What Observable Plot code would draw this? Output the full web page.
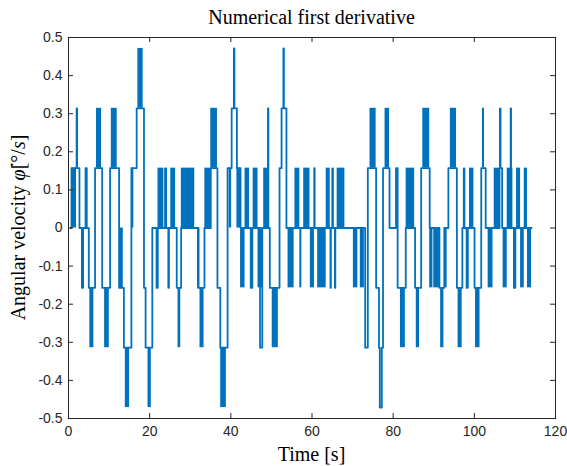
<!DOCTYPE html>
<html><head><meta charset="utf-8">
<script src="https://cdn.jsdelivr.net/npm/d3@7"></script>
<script src="https://cdn.jsdelivr.net/npm/@observablehq/plot@0.6"></script>
<style>body{margin:0;background:#fff}</style>
</head><body><div id="chart"></div>
<script>
// quantization step of the angular velocity (values are multiples of it)
const quantum = 0.1571;

// step signal: change times [s] and level (in quanta) from that time on
const stepTimes = [0.5,0.74,2.0,2.12,2.7,3.3,3.6,4.2,4.5,5.0,6.54,8.3,10.25,12.47,13.65,15.5,16.8,18.6,19.0,20.65,21.7,22.0,24.6,24.75,26.67,27.75,31.9,33.5,35.06,36.7,37.4,39.2,40.2,40.75,40.88,41.5,42.4,44.9,45.3,47.2,47.75,49.15,49.25,49.6,52.0,52.5,52.95,53.08,53.7,60.55,60.65,64.55,64.65,65.65,65.75,73.1,73.75,75.8,76.5,76.7,77.2,77.5,79.1,80.7,81.1,83.1,85.4,86.9,89.0,91.4,92.6,93.6,95.7,97.05,98.1,98.4,100.05,101.7,102.8,106.2,106.85,108.95,109.05,109.75,110.1,114.1];
const stepLevels = [0,1,2,1,0,-1,0,1,0,-1,1,-1,1,-1,-2,1,2,-1,-2,0,-1,0,-1,0,-1,0,-1,0,1,-1,-2,1,2,3,2,1,0,-1,0,-2,0,2,0,-1,1,2,3,2,0,1,0,-1,0,-1,0,-2,1,-1,-2,-3,-2,1,0,1,-1,0,-1,1,0,-1,0,1,-1,0,-1,0,-1,1,0,1,0,2,0,-1,0,0];

// rapid-flicker bands: start, end [s], lower and upper level (in quanta)
const blockStart = [0.74,5.26,6.9,8.9,10.55,12.67,14.0,15.55,17.1,19.6,22.05,23.7,25.2,27.0,27.8,31.9,32.4,33.6,35.06,37.5,39.6,41.5,42.4,43.5,45.5,46.7,48.1,50.2,54.1,55.8,57.0,57.95,59.6,61.4,63.5,64.9,66.2,70.2,71.9,74.3,78.0,81.8,83.2,85.7,87.3,89.0,90.0,91.7,92.7,94.1,96.0,97.3,98.8,100.3,102.0,103.4,104.9,106.2,107.1,108.1,110.4,111.4,112.3,113.1];
const blockEnd   = [1.98,6.25,8.15,10.05,12.0,13.5,15.06,16.1,18.4,20.4,23.5,24.4,26.4,27.65,31.1,32.4,33.4,35.0,36.7,38.9,40.2,42.4,43.5,44.6,46.7,47.8,49.2,51.7,55.6,57.0,57.5,59.5,60.6,63.5,64.5,65.5,68.1,71.3,72.9,75.8,79.1,83.0,85.3,86.5,89.0,89.8,91.4,92.5,93.3,95.6,97.0,97.9,99.9,101.4,102.5,104.6,106.2,106.8,108.1,109.5,111.4,112.3,113.1,114.1];
const blockLow   = [0,-2,1,-2,1,-1,-3,0,2,-3,0,0,0,-2,0,-1,-2,0,1,-3,0,0,-1,0,0,-1,0,-2,-1,0,-1,0,-1,-1,0,0,0,-1,-1,1,1,-2,0,-2,1,-1,-1,-2,-1,1,-2,0,0,-2,1,-1,0,1,-1,0,0,-1,0,-1];
const blockHigh  = [1,-1,2,-1,2,0,-2,1,3,-2,1,1,1,-1,1,0,-1,1,2,-2,1,1,0,1,1,0,1,-1,0,1,0,1,0,0,1,1,1,0,0,2,2,-1,1,-1,2,0,0,-1,0,2,-1,1,1,-1,2,0,1,2,0,1,1,0,1,0];

const xTicks = [0,20,40,60,80,100,120];
const yTicks = [-0.5,-0.4,-0.3,-0.2,-0.1,0,0.1,0.2,0.3,0.4,0.5];

const BLUE = "#0072BD";
const AX = "#262626";

const steps = stepTimes.map((t,i) => ({t, v: stepLevels[i]*quantum}));
const blocks = blockStart.map((t0,i) => ({t0, t1: blockEnd[i], lo: blockLow[i]*quantum, hi: blockHigh[i]*quantum}));

const W = 567, H = 466, mL = 68, mR = 12, mT = 37, mB = 48;
const tickPx = 5;
const tx = 120/(W-mL-mR)*tickPx, ty = 1/(H-mT-mB)*tickPx;

const chart = Plot.plot({
  width: W, height: H,
  marginLeft: mL, marginRight: mR, marginTop: mT, marginBottom: mB,
  style: {background: "#fff", fontFamily: "'Liberation Sans', Arial, sans-serif"},
  x: {domain: [0,120]},
  y: {domain: [-0.5,0.5]},
  marks: [
    Plot.rect(blocks, {x1:"t0", x2:"t1", y1:"lo", y2:"hi", fill: BLUE}),
    Plot.line(steps, {x:"t", y:"v", curve:"step-after", stroke: BLUE, strokeWidth: 1.8}),
    Plot.ruleX(xTicks, {x: d=>d, y1: -0.5, y2: -0.5+ty, stroke: AX}),
    Plot.ruleX(xTicks, {x: d=>d, y1: 0.5, y2: 0.5-ty, stroke: AX}),
    Plot.ruleY(yTicks, {y: d=>d, x1: 0, x2: tx, stroke: AX}),
    Plot.ruleY(yTicks, {y: d=>d, x1: 120, x2: 120-tx, stroke: AX}),
    Plot.frame({stroke: AX, strokeWidth: 1}),
    Plot.axisX({ticks: xTicks, tickSize: 0, tickPadding: 8, fontSize: 14, tickFormat: d => String(d), label: null, color: AX}),
    Plot.axisY({ticks: yTicks, tickSize: 0, tickPadding: 6, fontSize: 14, tickFormat: d => String(d), label: null, color: AX})
  ]
});

const svg = d3.select(chart);
const serif = "'Liberation Serif', 'Times New Roman', serif";
svg.append("text").attr("x", (mL + W - mR)/2).attr("y", 24).attr("text-anchor","middle")
  .attr("font-family", serif).attr("font-size", 20).attr("fill","#000").text("Numerical first derivative");
svg.append("text").attr("x", (mL + W - mR)/2).attr("y", 461).attr("text-anchor","middle")
  .attr("font-family", serif).attr("font-size", 20).attr("fill","#000").text("Time [s]");
const yl = svg.append("text").attr("transform", `translate(25,${(mT + H - mB)/2}) rotate(-90)`).attr("text-anchor","middle")
  .attr("font-family", serif).attr("font-size", 20).attr("fill","#000");
yl.append("tspan").text("Angular velocity ");
yl.append("tspan").attr("font-style","italic").text("φ\u0307");
yl.append("tspan").text("[°/");
yl.append("tspan").attr("font-style","italic").text("s");
yl.append("tspan").text("]");

document.getElementById("chart").appendChild(chart);
</script>
</body></html>
